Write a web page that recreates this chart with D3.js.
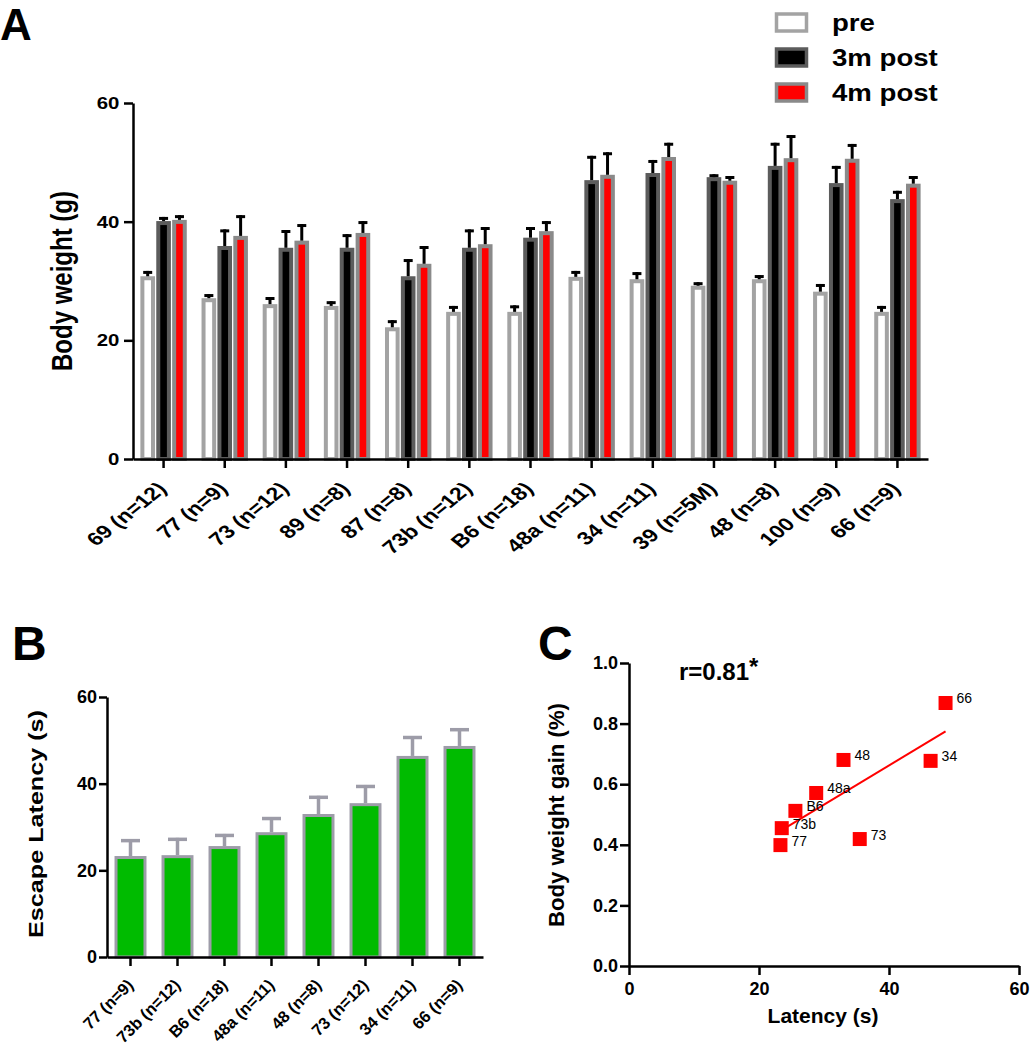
<!DOCTYPE html>
<html><head><meta charset="utf-8">
<script src="https://cdn.jsdelivr.net/npm/d3@7"></script>
<style>
body{margin:0;background:#fff;}
svg{display:block;font-family:"Liberation Sans",Arial,sans-serif;}
</style></head><body>
<svg id="chart" width="1035" height="1050"></svg>
<script>
// ---------- Panel A data ----------
const strainsA = ["69 (n=12)","77 (n=9)","73 (n=12)","89 (n=8)","87 (n=8)","73b (n=12)","B6 (n=18)","48a (n=11)","34 (n=11)","39 (n=5M)","48 (n=8)","100 (n=9)","66 (n=9)"];
const seriesA = ["pre","3m post","4m post"];
const preMean   = [30.8,27.1,26.1,25.8,22.2,24.8,24.8,30.7,30.3,29.2,30.3,28.2,24.8];
const preErr    = [0.9,0.7,1.2,0.8,1.2,1.0,1.1,1.0,1.2,0.6,0.7,1.3,1.0];
const post3Mean = [40.1,35.9,35.6,35.6,30.8,35.6,37.3,47.0,48.2,47.5,49.4,46.5,43.8];
const post3Err  = [0.7,2.8,3.0,2.3,2.9,3.1,1.8,4.1,2.2,0.5,3.9,2.9,1.4];
const post4Mean = [40.3,37.6,36.8,38.1,32.9,36.2,38.4,47.9,50.9,46.9,50.7,50.6,46.4];
const post4Err  = [0.8,3.5,2.8,2.0,3.0,2.9,1.7,3.8,2.4,0.8,3.9,2.5,1.3];
const ticksA = [0,20,40,60];

// ---------- Panel B data ----------
const strainsB = ["77 (n=9)","73b (n=12)","B6 (n=18)","48a (n=11)","48 (n=8)","73 (n=12)","34 (n=11)","66 (n=9)"];
const latency    = [23.3,23.5,25.6,28.8,33.0,35.5,46.4,48.7];
const latencyErr = [3.9,4.0,2.8,3.5,4.2,4.2,4.6,4.1];
const ticksB = [0,20,40,60];

// ---------- Panel C data ----------
const labelsC = ["77","73b","B6","48a","48","73","34","66"];
const gainC   = [0.399,0.455,0.512,0.571,0.680,0.419,0.677,0.868];
const ticksCy = [0,0.2,0.4,0.6,0.8,1.0];
const ticksCx = [0,20,40,60];

const svg = d3.select("#chart");
const SX = 1.2; // horizontal stretch of panel A text

function styleAxis(g, sw){
  g.select(".domain").attr("stroke","#000").attr("stroke-width",sw);
  g.selectAll(".tick line").attr("stroke","#000").attr("stroke-width",sw);
  g.selectAll(".tick text").attr("fill","#000").attr("font-weight","bold");
}

// ================= PANEL A =================
const xA = d3.scaleBand().domain(strainsA).range([133,928]).paddingInner(0.2).paddingOuter(0.1);
const xA1 = d3.scaleBand().domain(seriesA).range([0,xA.bandwidth()]).padding(0.08);
const yA = d3.scaleLinear().domain([0,60]).range([459,103]);
const seriesData = [
  {key:"pre", mean:preMean, err:preErr, fill:"#ffffff", stroke:"#a3a3a3"},
  {key:"3m post", mean:post3Mean, err:post3Err, fill:"#000000", stroke:"#5c5c5c"},
  {key:"4m post", mean:post4Mean, err:post4Err, fill:"#ff0000", stroke:"#8a8a8a"}
];
const swA = 4;
const gA = svg.append("g");
seriesData.forEach(s=>{
  const d = strainsA.map((c,i)=>({c, v:s.mean[i], e:s.err[i]}));
  gA.append("g").selectAll("rect").data(d).join("rect")
    .attr("x", d=>xA(d.c)+xA1(s.key)+swA/2)
    .attr("width", xA1.bandwidth()-swA)
    .attr("y", d=>yA(d.v)+swA/2)
    .attr("height", d=>yA(0)-yA(d.v)-swA/2)
    .attr("fill", s.fill).attr("stroke", s.stroke).attr("stroke-width", swA);
  const eg = gA.append("g").attr("stroke","#000").attr("stroke-width",3);
  eg.selectAll("line.v").data(d).join("line").attr("class","v")
    .attr("x1", d=>xA(d.c)+xA1(s.key)+xA1.bandwidth()/2)
    .attr("x2", d=>xA(d.c)+xA1(s.key)+xA1.bandwidth()/2)
    .attr("y1", d=>yA(d.v)).attr("y2", d=>yA(d.v+d.e));
  eg.selectAll("line.c").data(d).join("line").attr("class","c")
    .attr("x1", d=>xA(d.c)+xA1(s.key)+xA1.bandwidth()/2-4.5)
    .attr("x2", d=>xA(d.c)+xA1(s.key)+xA1.bandwidth()/2+4.5)
    .attr("y1", d=>yA(d.v+d.e)+1.5).attr("y2", d=>yA(d.v+d.e)+1.5);
});
const gyA = svg.append("g").attr("transform","translate(133,0)")
  .call(d3.axisLeft(yA).tickValues(ticksA).tickSize(9).tickSizeOuter(0).tickPadding(4));
styleAxis(gyA, 2.5);
gyA.selectAll(".tick text").attr("font-size",17).attr("transform",`scale(${SX},1)`).attr("x",-13/SX-0.5);
const gxA = svg.append("g").attr("transform","translate(0,459)")
  .call(d3.axisBottom(xA).tickSize(9).tickSizeOuter(0));
styleAxis(gxA, 2.5);
gxA.selectAll(".tick text").attr("font-size",18.5).attr("y",null).attr("dy",null)
  .attr("text-anchor","end").attr("transform",`translate(4,31) scale(1.25,1) rotate(-45)`);
svg.append("text").text("Body weight (g)").attr("font-weight","bold").attr("font-size",24)
  .attr("text-anchor","middle").attr("transform",`translate(72,281) scale(${SX},1) rotate(-90)`);
svg.append("text").text("A").attr("font-weight","bold").attr("font-size",44).attr("x",0).attr("y",40);

// legend
const yLeg = d3.scalePoint().domain(seriesA).range([22.5,92.5]);
const leg = svg.append("g");
seriesData.forEach(s=>{
  leg.append("rect").attr("x",776.5).attr("y",yLeg(s.key)-8.5).attr("width",30).attr("height",17)
    .attr("fill",s.fill).attr("stroke",s.stroke).attr("stroke-width",3.5);
  leg.append("text").text(s.key).attr("font-weight","bold").attr("font-size",23)
    .attr("transform",`translate(832,${yLeg(s.key)+8}) scale(${SX},1)`);
});

// ================= PANEL B =================
const xB = d3.scaleBand().domain(strainsB).range([107,483]).paddingInner(0.32).paddingOuter(0.16);
const yB = d3.scaleLinear().domain([0,60]).range([957,697]);
const dB = strainsB.map((c,i)=>({c, v:latency[i], e:latencyErr[i]}));
const swB = 3;
const gB = svg.append("g");
gB.selectAll("rect").data(dB).join("rect")
  .attr("x", d=>xB(d.c)+swB/2).attr("width", xB.bandwidth()-swB)
  .attr("y", d=>yB(d.v)+swB/2).attr("height", d=>yB(0)-yB(d.v)-swB/2)
  .attr("fill","#00bb00").attr("stroke","#9d9ca8").attr("stroke-width",swB);
const ebB = gB.append("g").attr("stroke","#9d9ca8").attr("stroke-width",3.5);
ebB.selectAll("line.v").data(dB).join("line").attr("class","v")
  .attr("x1", d=>xB(d.c)+xB.bandwidth()/2).attr("x2", d=>xB(d.c)+xB.bandwidth()/2)
  .attr("y1", d=>yB(d.v)).attr("y2", d=>yB(d.v+d.e));
ebB.selectAll("line.c").data(dB).join("line").attr("class","c")
  .attr("x1", d=>xB(d.c)+xB.bandwidth()/2-9.5).attr("x2", d=>xB(d.c)+xB.bandwidth()/2+9.5)
  .attr("y1", d=>yB(d.v+d.e)+1.5).attr("y2", d=>yB(d.v+d.e)+1.5);
const gyB = svg.append("g").attr("transform","translate(107,0)")
  .call(d3.axisLeft(yB).tickValues(ticksB).tickSize(8).tickSizeOuter(0).tickPadding(2));
styleAxis(gyB, 2.5);
gyB.selectAll(".tick text").attr("font-size",18);
const gxB = svg.append("g").attr("transform","translate(0,957)")
  .call(d3.axisBottom(xB).tickSize(9).tickSizeOuter(0));
styleAxis(gxB, 2.5);
gxB.selectAll(".tick text").attr("font-size",16.5).attr("y",null).attr("dy",null)
  .attr("text-anchor","end").attr("transform","translate(4,29) rotate(-45)");
svg.append("text").text("Escape Latency (s)").attr("font-weight","bold").attr("font-size",20)
  .attr("text-anchor","middle").attr("textLength",228).attr("lengthAdjust","spacingAndGlyphs")
  .attr("transform","translate(43,824) rotate(-90)");
svg.append("text").text("B").attr("font-weight","bold").attr("font-size",48).attr("x",12).attr("y",660);

// ================= PANEL C =================
const xC = d3.scaleLinear().domain([0,60]).range([629,1019]);
const yC = d3.scaleLinear().domain([0,1]).range([966,663]);
const dC = labelsC.map((l,i)=>({l, x:latency[i], y:gainC[i]}));
// least-squares fit of the plotted points
const mx = d3.mean(dC,d=>d.x), my = d3.mean(dC,d=>d.y);
const slope = d3.sum(dC,d=>(d.x-mx)*(d.y-my))/d3.sum(dC,d=>(d.x-mx)**2);
const icpt = my - slope*mx;
const xr = d3.extent(dC,d=>d.x);
const gC = svg.append("g");
gC.append("line").attr("x1",xC(xr[0])).attr("x2",xC(xr[1]))
  .attr("y1",yC(icpt+slope*xr[0])).attr("y2",yC(icpt+slope*xr[1]))
  .attr("stroke","#ff0000").attr("stroke-width",2);
gC.selectAll("rect").data(dC).join("rect")
  .attr("x",d=>xC(d.x)-7).attr("y",d=>yC(d.y)-7).attr("width",14).attr("height",14)
  .attr("fill","#ff0000");
gC.selectAll("text").data(dC).join("text").text(d=>d.l)
  .attr("x",d=>xC(d.x)+11).attr("y",d=>yC(d.y)+0.5).attr("font-size",14);
const gyC = svg.append("g").attr("transform","translate(629,0)")
  .call(d3.axisLeft(yC).tickValues(ticksCy).tickFormat(d3.format(".1f")).tickSize(9).tickSizeOuter(0).tickPadding(2));
styleAxis(gyC, 2.5);
gyC.selectAll(".tick text").attr("font-size",18);
const gxC = svg.append("g").attr("transform","translate(0,966)")
  .call(d3.axisBottom(xC).tickValues(ticksCx).tickSize(9).tickSizeOuter(0).tickPadding(7));
styleAxis(gxC, 2.5);
gxC.selectAll(".tick text").attr("font-size",18);
svg.append("text").text("Body weight gain (%)").attr("font-weight","bold").attr("font-size",22)
  .attr("text-anchor","middle").attr("textLength",224).attr("lengthAdjust","spacingAndGlyphs")
  .attr("transform","translate(564,815) rotate(-90)");
svg.append("text").text("Latency (s)").attr("font-weight","bold").attr("font-size",21)
  .attr("text-anchor","middle").attr("x",823).attr("y",1023);
const rt = svg.append("text").attr("font-weight","bold").attr("font-size",24).attr("x",679).attr("y",680);
rt.append("tspan").text("r=0.81");
rt.append("tspan").text("*").attr("dy",-5);
svg.append("text").text("C").attr("font-weight","bold").attr("font-size",48).attr("x",538).attr("y",660);
</script>
</body></html>
